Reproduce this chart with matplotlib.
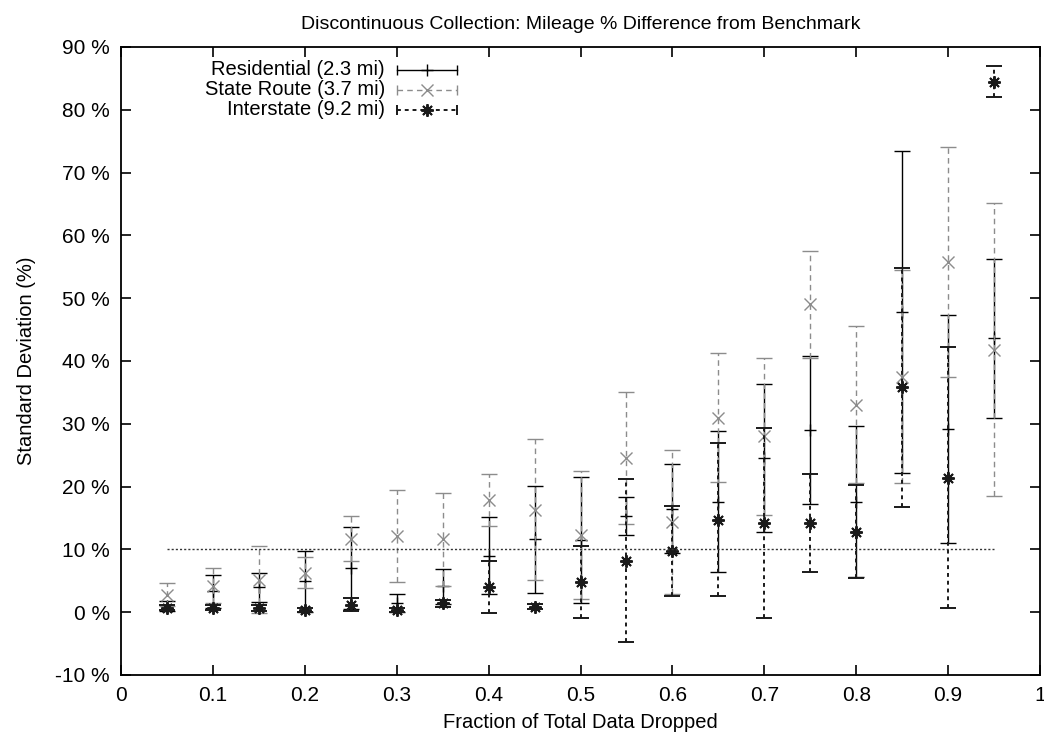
import numpy as np
import matplotlib
matplotlib.use("Agg")
import matplotlib.pyplot as plt
from matplotlib.ticker import FuncFormatter, MultipleLocator

plt.rcParams['font.family'] = ['Liberation Sans', 'DejaVu Sans']

# fraction of data dropped
frac = [0.05, 0.10, 0.15, 0.20, 0.25, 0.30, 0.35, 0.40, 0.45, 0.50,
        0.55, 0.60, 0.65, 0.70, 0.75, 0.80, 0.85, 0.90, 0.95]

# Residential (2.3 mi): value and error
res_val = [1.0, 3.3, 4.0, 4.9, 7.0, 1.5, 4.1, 9.0, 11.6, 11.5,
           15.3, 16.5, 17.6, 24.5, 29.0, 17.6, 47.8, 29.2, 43.6]
res_err = [0.8, 2.7, 2.3, 4.9, 6.5, 1.4, 2.8, 6.1, 8.5, 10.0,
           3.0, 7.1, 11.2, 11.8, 11.8, 12.0, 25.7, 18.2, 12.7]

# State Route (3.7 mi)
st_val = [2.8, 4.2, 5.2, 6.3, 11.7, 12.1, 11.6, 17.9, 16.3, 12.3,
          24.5, 14.4, 31.0, 28.0, 49.0, 33.0, 37.5, 55.8, 41.8]
st_err = [1.8, 2.8, 5.4, 2.5, 3.6, 7.3, 7.4, 4.1, 11.2, 10.2,
          10.5, 11.5, 10.3, 12.5, 8.5, 12.5, 17.0, 18.3, 23.3]

# Interstate (9.2 mi)
int_val = [0.7, 0.7, 0.7, 0.3, 1.2, 0.3, 1.4, 4.0, 0.9, 4.8,
           8.2, 9.7, 14.7, 14.2, 14.2, 12.8, 35.8, 21.4, 84.5]
int_err = [0.4, 0.4, 0.5, 0.3, 1.0, 0.3, 0.6, 4.1, 0.4, 5.8,
           13.0, 7.2, 12.2, 15.2, 7.8, 7.4, 19.0, 20.8, 2.4]

# 10 % reference line
ref_x = [0.05, 0.95]
ref_y = [10, 10]

labels = ['Residential (2.3 mi)', 'State Route (3.7 mi)', 'Interstate (9.2 mi)']

fig = plt.figure(figsize=(10.44, 7.42), dpi=100)
ax = fig.add_axes([0.1159, 0.0903, 0.8803, 0.8464])

styles = [
    dict(color='black', ls='-', marker='+', ms=8, lw=1.0),
    dict(color='#8c8c8c', ls=(0, (4, 3)), marker='x', ms=9, lw=1.0),
    dict(color='#1a1a1a', ls=(0, (2, 2)), marker=(8, 2, 0), ms=9, lw=1.4),
]
series = [(res_val, res_err), (st_val, st_err), (int_val, int_err)]

for (vals, errs), st in zip(series, styles):
    eb = ax.errorbar(frac, vals, yerr=errs, fmt='none', ecolor=st['color'],
                     elinewidth=st['lw'], capsize=5.5, capthick=st['lw'])
    eb[2][0].set_linestyle(st['ls'])
    ax.plot(frac, vals, ls='none', marker=st['marker'], ms=st['ms'],
            color=st['color'], mew=st['lw'])

ax.plot(ref_x, ref_y, ls=(0, (1.5, 1.5)), color='#333333', lw=1.0)

# gnuplot-style key: right-aligned text, sample line with end caps
row_y = [0.9634, 0.9315, 0.8997]
for lab, st, y in zip(labels, styles, row_y):
    ax.text(0.2873, y, lab, transform=ax.transAxes, ha='right', va='center',
            fontsize=14.5)
    ax.plot([0.3003, 0.3656], [y, y], transform=ax.transAxes, color=st['color'],
            ls=st['ls'], lw=st['lw'], clip_on=False)
    ax.plot([0.3003, 0.3656], [y, y], transform=ax.transAxes, color=st['color'],
            ls='none', marker='|', ms=7, mew=st['lw'], clip_on=False)
    ax.plot([0.333], [y], transform=ax.transAxes, color=st['color'], ls='none',
            marker=st['marker'], ms=st['ms'], mew=st['lw'], clip_on=False)

ax.set_xlim(0, 1)
ax.set_ylim(-10, 90)
ax.xaxis.set_major_locator(MultipleLocator(0.1))
ax.yaxis.set_major_locator(MultipleLocator(10))
ax.xaxis.set_major_formatter(FuncFormatter(lambda v, p: '%g' % round(v, 1)))
ax.yaxis.set_major_formatter(FuncFormatter(lambda v, p: '%d %%' % round(v)))
ax.tick_params(direction='in', length=7, width=1.2, top=True, right=True,
               labelsize=15, pad=8)
for sp in ax.spines.values():
    sp.set_linewidth(1.3)

ax.set_title('Discontinuous Collection: Mileage % Difference from Benchmark',
             fontsize=14, pad=13)
ax.set_xlabel('Fraction of Total Data Dropped', fontsize=14.5, labelpad=6)
ax.set_ylabel('Standard Deviation (%)', fontsize=14.5, labelpad=14)

fig.savefig('out.png', dpi=100)
